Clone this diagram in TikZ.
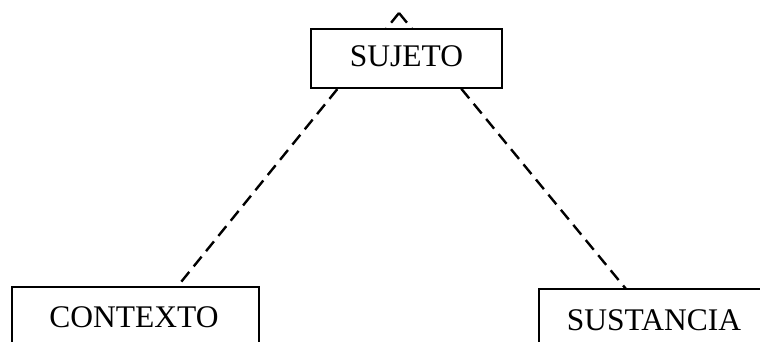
\documentclass[tikz,border=0pt]{standalone}
\usepackage{fontspec}
\setmainfont{Liberation Serif}
\tikzset{
  box/.style={draw, line width=2.3pt, fill=white, inner sep=0pt},
  lbl/.style={font=\fontsize{31.5}{36}\selectfont, inner sep=0pt, anchor=base},
  dashline/.style={line width=2.4pt, dash pattern=on 12.5pt off 7.1pt},
}
\begin{document}
\begin{tikzpicture}[x=1pt,y=-1pt]
\useasboundingbox (0,0) rectangle (760,342);
\coordinate (apex) at (399,13);
\coordinate (cend) at (177,287);
\coordinate (send) at (626,289);
\draw[dashline] (apex) -- (cend);
\draw[dashline] (apex) -- (send);
\node[box, minimum width=191pt, minimum height=59pt] (suj) at (406.5,58.5) {};
\node[box, minimum width=247pt, minimum height=80pt] (ctx) at (135.5,327) {};
\node[box, minimum width=230pt, minimum height=80pt] (sus) at (654,329) {};
\node[lbl] (sujt) at (406.5,67) {SUJETO};
\node[lbl] (ctxt) at (134,327) {CONTEXTO};
\node[lbl] (sust) at (654,330) {SUSTANCIA};
\end{tikzpicture}
\end{document}
